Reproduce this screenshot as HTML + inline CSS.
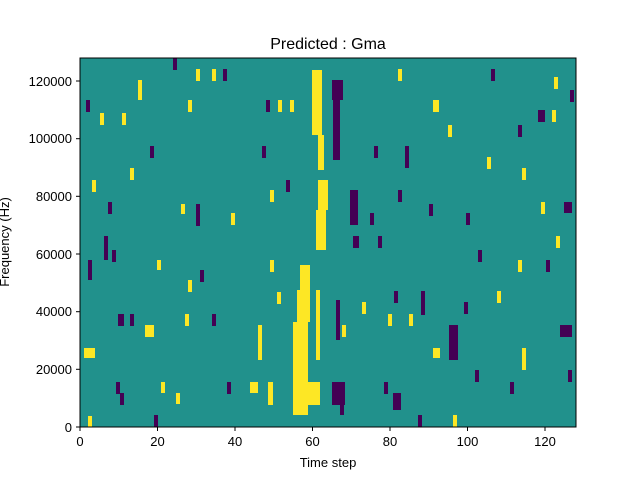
<!DOCTYPE html>
<html><head><style>body{margin:0;background:#fff}svg{display:block}text{font-family:"Liberation Sans","DejaVu Sans",sans-serif;fill:#000}</style></head>
<body>
<svg width="640" height="480" viewBox="0 0 640 480" xmlns="http://www.w3.org/2000/svg">
<rect x="0" y="0" width="640" height="480" fill="#fff"/>
<rect x="80" y="58" width="496" height="369" fill="#21918c"/>
<g fill="#fde725">
<rect x="293" y="322" width="15" height="93"/>
<rect x="297" y="290" width="13" height="32"/>
<rect x="300" y="265" width="10" height="25"/>
<rect x="316" y="210" width="10" height="40"/>
<rect x="318" y="180" width="10" height="30"/>
<rect x="312" y="70" width="10" height="65"/>
<rect x="318" y="135" width="6" height="35"/>
<rect x="308" y="382" width="12" height="23"/>
<rect x="316" y="290" width="4" height="70"/>
<rect x="84" y="348" width="11" height="10"/>
<rect x="145" y="325" width="9" height="12"/>
<rect x="250" y="382" width="8" height="11"/>
<rect x="268" y="382" width="5" height="23"/>
<rect x="433" y="348" width="7" height="10"/>
<rect x="522" y="348" width="4" height="22"/>
<rect x="138" y="80" width="4" height="20"/>
<rect x="88" y="416" width="4" height="11"/>
<rect x="176" y="393" width="4" height="11"/>
<rect x="161" y="382" width="4" height="11"/>
<rect x="196" y="69" width="4" height="12"/>
<rect x="212" y="69" width="4" height="12"/>
<rect x="188" y="100" width="4" height="12"/>
<rect x="258" y="325" width="4" height="35"/>
<rect x="270" y="190" width="4" height="12"/>
<rect x="278" y="100" width="4" height="12"/>
<rect x="290" y="100" width="4" height="12"/>
<rect x="231" y="213" width="4" height="12"/>
<rect x="181" y="204" width="4" height="10"/>
<rect x="157" y="260" width="4" height="10"/>
<rect x="188" y="280" width="4" height="12"/>
<rect x="185" y="314" width="4" height="12"/>
<rect x="362" y="302" width="4" height="12"/>
<rect x="388" y="314" width="4" height="12"/>
<rect x="409" y="314" width="4" height="12"/>
<rect x="448" y="125" width="4" height="12"/>
<rect x="433" y="100" width="6" height="12"/>
<rect x="453" y="415" width="4" height="12"/>
<rect x="487" y="157" width="4" height="12"/>
<rect x="522" y="168" width="4" height="12"/>
<rect x="552" y="110" width="4" height="12"/>
<rect x="554" y="77" width="4" height="12"/>
<rect x="541" y="202" width="4" height="12"/>
<rect x="556" y="236" width="4" height="12"/>
<rect x="564" y="325" width="4" height="12"/>
<rect x="518" y="260" width="4" height="12"/>
<rect x="497" y="291" width="4" height="12"/>
<rect x="122" y="113" width="4" height="12"/>
<rect x="100" y="113" width="4" height="12"/>
<rect x="92" y="180" width="4" height="12"/>
<rect x="130" y="168" width="4" height="12"/>
<rect x="277" y="292" width="4" height="12"/>
<rect x="270" y="260" width="4" height="12"/>
<rect x="398" y="69" width="4" height="12"/>
<rect x="342" y="325" width="4" height="12"/>
</g>
<g fill="#440154">
<rect x="332" y="80" width="11" height="20"/>
<rect x="333" y="100" width="7" height="60"/>
<rect x="350" y="190" width="8" height="35"/>
<rect x="332" y="382" width="13" height="23"/>
<rect x="393" y="393" width="8" height="17"/>
<rect x="560" y="325" width="12" height="12"/>
<rect x="564" y="202" width="8" height="11"/>
<rect x="538" y="110" width="7" height="12"/>
<rect x="449" y="325" width="9" height="35"/>
<rect x="353" y="236" width="6" height="12"/>
<rect x="336" y="300" width="4" height="40"/>
<rect x="340" y="395" width="4" height="20"/>
<rect x="86" y="100" width="4" height="12"/>
<rect x="88" y="260" width="4" height="20"/>
<rect x="108" y="202" width="4" height="12"/>
<rect x="118" y="314" width="6" height="12"/>
<rect x="130" y="314" width="4" height="12"/>
<rect x="104" y="236" width="4" height="24"/>
<rect x="112" y="250" width="4" height="12"/>
<rect x="116" y="382" width="4" height="12"/>
<rect x="120" y="393" width="4" height="12"/>
<rect x="154" y="415" width="4" height="12"/>
<rect x="150" y="146" width="4" height="12"/>
<rect x="173" y="58" width="4" height="12"/>
<rect x="200" y="270" width="4" height="12"/>
<rect x="212" y="314" width="4" height="12"/>
<rect x="196" y="204" width="4" height="22"/>
<rect x="227" y="382" width="4" height="12"/>
<rect x="223" y="69" width="4" height="12"/>
<rect x="266" y="100" width="4" height="12"/>
<rect x="262" y="146" width="4" height="12"/>
<rect x="286" y="180" width="4" height="12"/>
<rect x="370" y="213" width="4" height="12"/>
<rect x="378" y="236" width="4" height="12"/>
<rect x="374" y="146" width="4" height="12"/>
<rect x="384" y="382" width="4" height="12"/>
<rect x="405" y="146" width="4" height="22"/>
<rect x="418" y="415" width="4" height="12"/>
<rect x="421" y="291" width="4" height="24"/>
<rect x="429" y="204" width="4" height="12"/>
<rect x="466" y="213" width="4" height="12"/>
<rect x="478" y="250" width="4" height="12"/>
<rect x="475" y="370" width="4" height="12"/>
<rect x="491" y="69" width="4" height="12"/>
<rect x="510" y="382" width="4" height="12"/>
<rect x="518" y="125" width="4" height="12"/>
<rect x="546" y="260" width="4" height="12"/>
<rect x="568" y="370" width="4" height="12"/>
<rect x="570" y="90" width="4" height="12"/>
<rect x="464" y="302" width="4" height="12"/>
<rect x="398" y="190" width="4" height="12"/>
<rect x="394" y="291" width="4" height="12"/>
</g>
<rect x="80" y="58" width="496" height="369" fill="none" stroke="#000" stroke-width="1"/>
<g stroke="#000" stroke-width="1">
<line x1="80" y1="427" x2="80" y2="431"/><line x1="157.5" y1="427" x2="157.5" y2="431"/><line x1="235" y1="427" x2="235" y2="431"/><line x1="312.5" y1="427" x2="312.5" y2="431"/><line x1="390" y1="427" x2="390" y2="431"/><line x1="467.5" y1="427" x2="467.5" y2="431"/><line x1="545" y1="427" x2="545" y2="431"/>
<line x1="76" y1="427" x2="80" y2="427"/><line x1="76" y1="369.3" x2="80" y2="369.3"/><line x1="76" y1="311.7" x2="80" y2="311.7"/><line x1="76" y1="254" x2="80" y2="254"/><line x1="76" y1="196.3" x2="80" y2="196.3"/><line x1="76" y1="138.7" x2="80" y2="138.7"/><line x1="76" y1="81" x2="80" y2="81"/>
</g>
<g font-size="13" text-anchor="middle">
<text x="80" y="446">0</text><text x="157.5" y="446">20</text><text x="235" y="446">40</text><text x="312.5" y="446">60</text><text x="390" y="446">80</text><text x="467.5" y="446">100</text><text x="545" y="446">120</text>
</g>
<g font-size="13" text-anchor="end">
<text x="72" y="432">0</text><text x="72" y="374">20000</text><text x="72" y="316">40000</text><text x="72" y="259">60000</text><text x="72" y="201">80000</text><text x="72" y="143">100000</text><text x="72" y="86">120000</text>
</g>
<text x="328" y="467" font-size="13" text-anchor="middle">Time step</text>
<text x="0" y="0" font-size="13" text-anchor="middle" transform="translate(9,242) rotate(-90)">Frequency (Hz)</text>
<text x="328" y="49" font-size="16" text-anchor="middle">Predicted : Gma</text>
</svg>
</body></html>
